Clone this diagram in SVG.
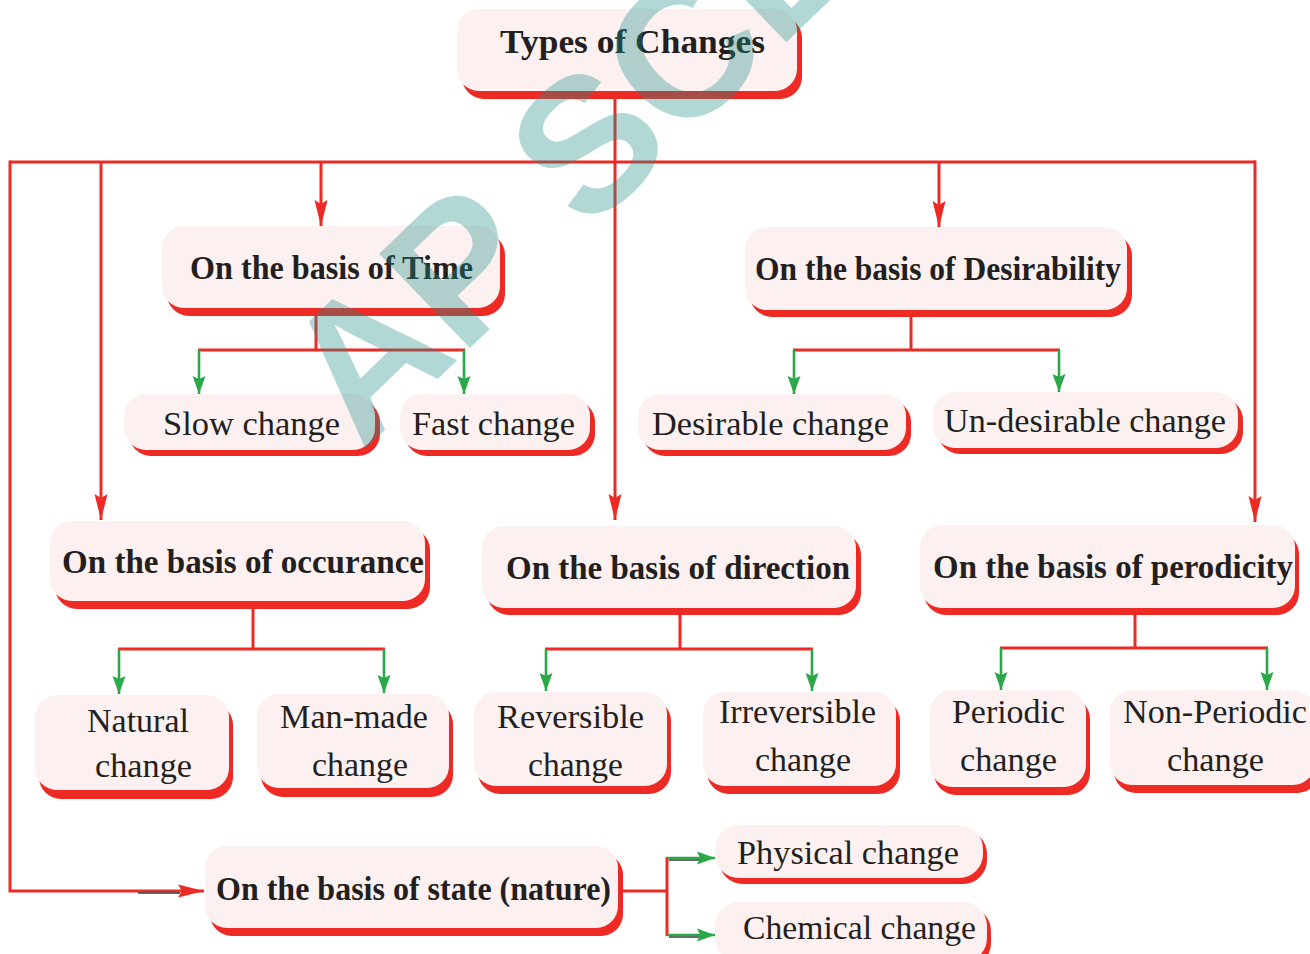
<svg xmlns="http://www.w3.org/2000/svg" width="1310" height="954" viewBox="0 0 1310 954">
  <style>
    .sh { fill: #ee2a24; }
    .bx { fill: #fcf1f0; }
    .hd { font-family: "Liberation Serif", "Times New Roman", serif; font-weight: bold; font-size: 33px; fill: #231f20; }
    .lb { font-family: "Liberation Serif", "Times New Roman", serif; font-size: 34px; fill: #231f20; }
    .red { fill: none; stroke: #ee2a24; stroke-width: 3; }
    .grn { fill: none; stroke: #2ba84a; stroke-width: 2.6; }
    .dk { fill: none; stroke: #3a3a3a; stroke-width: 1.6; }
    .wm { font-family: "Liberation Sans", Arial, sans-serif; font-weight: bold; font-size: 190px; fill: #228f89; fill-opacity: 0.35; }
  </style>
  <defs>
    <marker id="ar" markerUnits="userSpaceOnUse" markerWidth="26" markerHeight="14" refX="26" refY="7" orient="auto">
      <path d="M0,0.5 L26,7 L0,13.5 L4,7 Z" fill="#ee2a24"/>
    </marker>
    <marker id="ag" markerUnits="userSpaceOnUse" markerWidth="18" markerHeight="14" refX="18" refY="7" orient="auto">
      <path d="M0,0.5 L18,7 L0,13.5 L3,7 Z" fill="#2ba84a"/>
    </marker>
  </defs>

  <!-- connectors -->
  <g id="connectors">
    <path class="red" d="M615,98 V520" marker-end="url(#ar)"/>
    <path class="red" d="M10,162 H1256"/>
    <path class="red" d="M10,160.5 V891 H204" marker-end="url(#ar)"/>
    <path class="dk" d="M138,893 H180"/>
    <path class="red" d="M101,162 V520" marker-end="url(#ar)"/>
    <path class="red" d="M321,162 V226" marker-end="url(#ar)"/>
    <path class="red" d="M939,162 V227" marker-end="url(#ar)"/>
    <path class="red" d="M1255,160.5 V522" marker-end="url(#ar)"/>

    <!-- time branch -->
    <path class="red" d="M316,314 V350 M198,350 H465"/>
    <path class="grn" d="M199,350 V394" marker-end="url(#ag)"/>
    <path class="grn" d="M464,350 V394" marker-end="url(#ag)"/>

    <!-- desirability branch -->
    <path class="red" d="M911,316 V350 M793,350 H1060"/>
    <path class="grn" d="M794,350 V394" marker-end="url(#ag)"/>
    <path class="grn" d="M1059,350 V392" marker-end="url(#ag)"/>

    <!-- occurance branch -->
    <path class="red" d="M253,607 V649 M118,649 H385"/>
    <path class="grn" d="M119,649 V694" marker-end="url(#ag)"/>
    <path class="grn" d="M384,649 V693" marker-end="url(#ag)"/>

    <!-- direction branch -->
    <path class="red" d="M680,614 V649 M545,649 H813"/>
    <path class="grn" d="M546,649 V691" marker-end="url(#ag)"/>
    <path class="grn" d="M812,649 V691" marker-end="url(#ag)"/>

    <!-- perodicity branch -->
    <path class="red" d="M1135,614 V648 M1000,648 H1268"/>
    <path class="grn" d="M1001,648 V690" marker-end="url(#ag)"/>
    <path class="grn" d="M1267,648 V690" marker-end="url(#ag)"/>

    <!-- state branch -->
    <path class="red" d="M623,891 H667 M667,857 V936"/>
    <path class="dk" d="M669,860 H702 M669,937 H702"/>
    <path class="grn" d="M667,858 H715" marker-end="url(#ag)"/>
    <path class="grn" d="M667,935 H715" marker-end="url(#ag)"/>
  </g>

  <!-- root -->
  <g id="types">
    <rect class="sh" x="462" y="16" width="340" height="83" rx="22"/>
    <rect class="bx" x="457" y="9" width="340" height="82" rx="22"/>
    <text class="hd" x="500" y="53" textLength="265" lengthAdjust="spacingAndGlyphs">Types of Changes</text>
  </g>

  <!-- first level -->
  <g id="basis-time">
    <rect class="sh" x="167" y="233" width="338" height="83" rx="22"/>
    <rect class="bx" x="162" y="226" width="338" height="82" rx="22"/>
    <text class="hd" x="190" y="279" textLength="283" lengthAdjust="spacingAndGlyphs">On the basis of Time</text>
  </g>
  <g id="basis-desirability">
    <rect class="sh" x="750" y="234" width="382" height="83" rx="22"/>
    <rect class="bx" x="745" y="227" width="382" height="83" rx="22"/>
    <text class="hd" x="755" y="280" textLength="366" lengthAdjust="spacingAndGlyphs">On the basis of Desirability</text>
  </g>
  <g id="basis-occurance">
    <rect class="sh" x="55" y="528" width="375" height="81" rx="22"/>
    <rect class="bx" x="50" y="521" width="375" height="80" rx="22"/>
    <text class="hd" x="62" y="573" textLength="362" lengthAdjust="spacingAndGlyphs">On the basis of occurance</text>
  </g>
  <g id="basis-direction">
    <rect class="sh" x="487" y="533" width="374" height="82" rx="22"/>
    <rect class="bx" x="482" y="526" width="374" height="82" rx="22"/>
    <text class="hd" x="506" y="579" textLength="344" lengthAdjust="spacingAndGlyphs">On the basis of direction</text>
  </g>
  <g id="basis-perodicity">
    <rect class="sh" x="924" y="532" width="375" height="83" rx="22"/>
    <rect class="bx" x="920" y="525" width="375" height="83" rx="22"/>
    <text class="hd" x="933" y="578" textLength="360" lengthAdjust="spacingAndGlyphs">On the basis of perodicity</text>
  </g>
  <g id="basis-state">
    <rect class="sh" x="210" y="853" width="413" height="83" rx="22"/>
    <rect class="bx" x="205" y="846" width="413" height="82" rx="22"/>
    <text class="hd" x="216" y="900" textLength="395" lengthAdjust="spacingAndGlyphs">On the basis of state (nature)</text>
  </g>

  <!-- leaves -->
  <g id="slow">
    <rect class="sh" x="129" y="400" width="251" height="56" rx="22"/>
    <rect class="bx" x="124" y="394" width="251" height="56" rx="22"/>
    <text class="lb" x="163" y="435" textLength="177" lengthAdjust="spacingAndGlyphs">Slow change</text>
  </g>
  <g id="fast">
    <rect class="sh" x="405" y="400" width="190" height="56" rx="22"/>
    <rect class="bx" x="400" y="394" width="190" height="56" rx="22"/>
    <text class="lb" x="412" y="435" textLength="163" lengthAdjust="spacingAndGlyphs">Fast change</text>
  </g>
  <g id="desirable">
    <rect class="sh" x="643" y="400" width="268" height="56" rx="22"/>
    <rect class="bx" x="638" y="394" width="268" height="56" rx="22"/>
    <text class="lb" x="652" y="435" textLength="237" lengthAdjust="spacingAndGlyphs">Desirable change</text>
  </g>
  <g id="undesirable">
    <rect class="sh" x="938" y="398" width="305" height="56" rx="22"/>
    <rect class="bx" x="933" y="392" width="305" height="56" rx="22"/>
    <text class="lb" x="944" y="432" textLength="282" lengthAdjust="spacingAndGlyphs">Un-desirable change</text>
  </g>
  <g id="natural">
    <rect class="sh" x="39" y="703" width="194" height="96" rx="22"/>
    <rect class="bx" x="35" y="695" width="194" height="95" rx="22"/>
    <text class="lb" x="87" y="732" textLength="102" lengthAdjust="spacingAndGlyphs">Natural</text>
    <text class="lb" x="95" y="777" textLength="97" lengthAdjust="spacingAndGlyphs">change</text>
  </g>
  <g id="manmade">
    <rect class="sh" x="261" y="702" width="192" height="95" rx="22"/>
    <rect class="bx" x="257" y="694" width="192" height="94" rx="22"/>
    <text class="lb" x="280" y="728" textLength="148" lengthAdjust="spacingAndGlyphs">Man-made</text>
    <text class="lb" x="312" y="776" textLength="96" lengthAdjust="spacingAndGlyphs">change</text>
  </g>
  <g id="reversible">
    <rect class="sh" x="478" y="699" width="193" height="95" rx="22"/>
    <rect class="bx" x="474" y="692" width="193" height="94" rx="22"/>
    <text class="lb" x="497" y="728" textLength="147" lengthAdjust="spacingAndGlyphs">Reversible</text>
    <text class="lb" x="528" y="776" textLength="95" lengthAdjust="spacingAndGlyphs">change</text>
  </g>
  <g id="irreversible">
    <rect class="sh" x="707" y="699" width="193" height="95" rx="22"/>
    <rect class="bx" x="703" y="692" width="193" height="94" rx="22"/>
    <text class="lb" x="719" y="723" textLength="157" lengthAdjust="spacingAndGlyphs">Irreversible</text>
    <text class="lb" x="755" y="771" textLength="96" lengthAdjust="spacingAndGlyphs">change</text>
  </g>
  <g id="periodic">
    <rect class="sh" x="934" y="697" width="156" height="98" rx="22"/>
    <rect class="bx" x="930" y="690" width="156" height="97" rx="22"/>
    <text class="lb" x="952" y="723" textLength="113" lengthAdjust="spacingAndGlyphs">Periodic</text>
    <text class="lb" x="960" y="771" textLength="97" lengthAdjust="spacingAndGlyphs">change</text>
  </g>
  <g id="nonperiodic">
    <rect class="sh" x="1114" y="697" width="205" height="96" rx="22"/>
    <rect class="bx" x="1110" y="690" width="205" height="95" rx="22"/>
    <text class="lb" x="1123" y="723" textLength="184" lengthAdjust="spacingAndGlyphs">Non-Periodic</text>
    <text class="lb" x="1167" y="771" textLength="97" lengthAdjust="spacingAndGlyphs">change</text>
  </g>
  <g id="physical">
    <rect class="sh" x="719" y="830" width="268" height="54" rx="24"/>
    <rect class="bx" x="715" y="825" width="268" height="53" rx="24"/>
    <text class="lb" x="737" y="864" textLength="222" lengthAdjust="spacingAndGlyphs">Physical change</text>
  </g>
  <g id="chemical">
    <rect class="sh" x="719" y="907" width="272" height="60" rx="24"/>
    <rect class="bx" x="715" y="902" width="272" height="60" rx="24"/>
    <text class="lb" x="743" y="939" textLength="233" lengthAdjust="spacingAndGlyphs">Chemical change</text>
  </g>

  <!-- translucent watermark lettering across the chart -->
  <text class="wm" transform="translate(362,452) rotate(-44)">AP SCE</text>
</svg>
